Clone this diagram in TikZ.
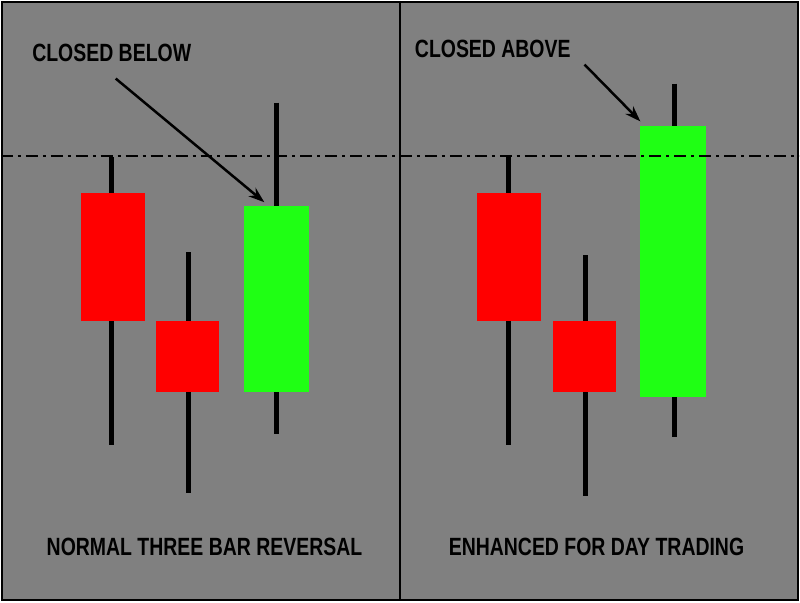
\documentclass[tikz,border=0pt]{standalone}
\usepackage{fontspec}
\setmainfont{Liberation Sans}
\usetikzlibrary{arrows.meta}
\definecolor{panelgray}{HTML}{808080}
\definecolor{barred}{HTML}{FF0000}
\definecolor{bargreen}{HTML}{1FFF14}
\tikzset{
  % wick of a candle
  wick/.style={line width=5pt, black},
  % candle bodies
  bear/.style={fill=barred, draw=none},
  bull/.style={fill=bargreen, draw=none},
  caption/.style={font=\bfseries\fontsize{25}{25}\selectfont, xscale=0.78, inner sep=0pt},
  pointer/.style={-{Stealth[length=16pt,width=11pt]}, line width=2.5pt},
}
\begin{document}
\begin{tikzpicture}[x=1pt, y=-1pt]
  \fill[panelgray] (0,0) rectangle (800,602);
  \draw[line width=2pt] (1,1) rectangle (799,601);
  \draw[line width=1.5pt] (400,0) -- (400,602);

  % left panel
  \draw[wick] (111,157) -- (111,445);
  \fill[bear] (80,193) rectangle (144,321);
  \draw[wick] (188,252) -- (188,493);
  \fill[bear] (155,321) rectangle (219,392);
  \draw[wick] (276,102) -- (276,434);
  \fill[bull] (244,206) rectangle (309,392);

  % right panel
  \draw[wick] (509,157) -- (509,445);
  \fill[bear] (477,193) rectangle (541,321);
  \draw[wick] (586,255) -- (586,496);
  \fill[bear] (553,321) rectangle (617,392);
  \draw[wick] (675,83) -- (675,437);
  \fill[bull] (641,126) rectangle (707,397);

  \draw[line width=2pt, dash pattern=on 12pt off 5pt on 3pt off 5pt] (0,156) -- (800,156);

  \node[caption] (below) at (111,52) {CLOSED BELOW};
  \node[caption] (above) at (493,48) {CLOSED ABOVE};
  \coordinate (belowtip) at (264,202);
  \coordinate (abovetip) at (641,121);
  \draw[pointer] (115,78) -- (belowtip);
  \draw[pointer] (585,64) -- (abovetip);

  \node[caption] (normal) at (204,548) {NORMAL THREE BAR REVERSAL};
  \node[caption] (enhanced) at (597,548) {ENHANCED FOR DAY TRADING};
\end{tikzpicture}
\end{document}
